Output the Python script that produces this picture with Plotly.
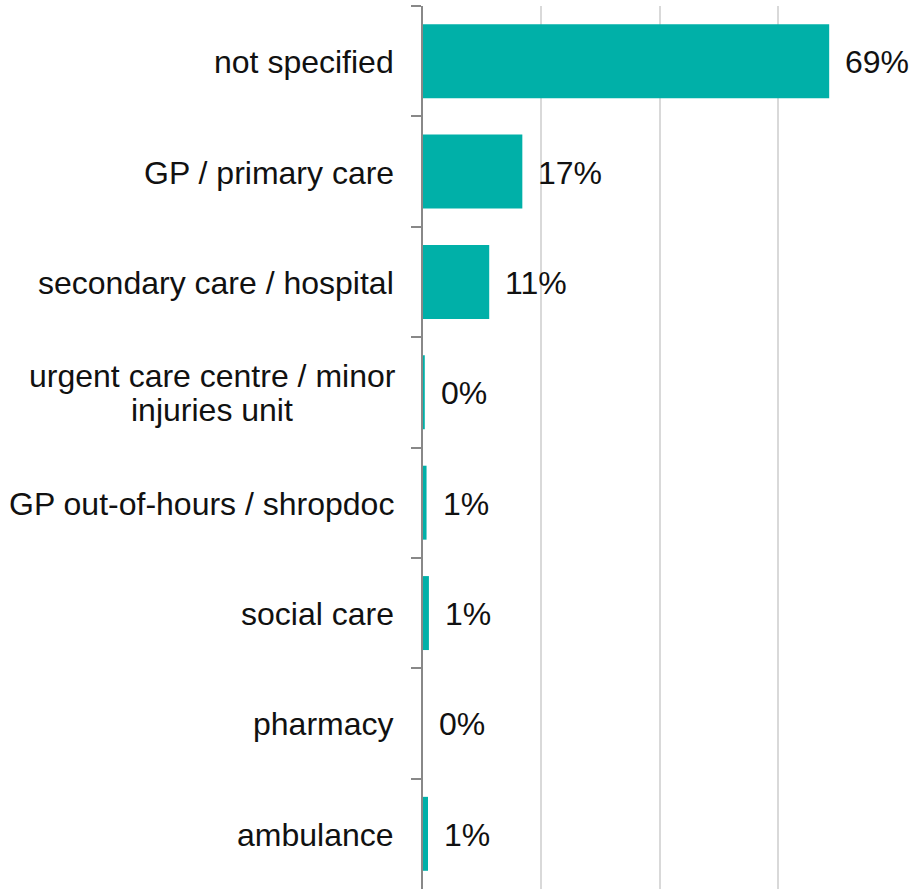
import plotly.graph_objects as go

categories = [
    "not specified",
    "GP / primary care",
    "secondary care / hospital",
    "urgent care centre / minor<br>injuries unit",
    "GP out-of-hours / shropdoc",
    "social care",
    "pharmacy",
    "ambulance",
]
values = [68.7, 16.8, 11.2, 0.3, 0.6, 1.0, 0.0, 0.85]
x_ticks = [0, 20, 40, 60, 80]

BAR = "#00B0A8"
FONT = "Liberation Sans, Arial, sans-serif"
FS = 32

fig = go.Figure()
fig.add_trace(go.Bar(
    y=categories, x=values, orientation="h",
    marker=dict(color=BAR, line=dict(width=0)),
    hoverinfo="skip",
))

annotations = []
for c, v in zip(categories, values):
    annotations.append(dict(
        x=v, y=c, xref="x", yref="y", text=f"{round(v)}%",
        showarrow=False, xanchor="left", yanchor="middle", xshift=14, yshift=-1,
        font=dict(family=FONT, size=FS, color="#111111"),
    ))
    lines = c.split("<br>")
    n = len(lines)
    for i, line in enumerate(lines):
        shift = (n - 1) / 2 * 34 - i * 34
        if n == 1:
            anchor, xs = "right", -27
        else:
            # wrapped labels are centred on their block, as in the source
            anchor, xs = "center", -211
        annotations.append(dict(
            x=0, y=c, xref="paper", yref="y", text=line,
            showarrow=False, xanchor=anchor, yanchor="middle",
            xshift=xs, yshift=shift - 1,
            font=dict(family=FONT, size=FS, color="#111111"),
        ))

fig.update_layout(
    width=910, height=891,
    margin=dict(l=423, r=14, t=6, b=2, autoexpand=False),
    paper_bgcolor="white", plot_bgcolor="white",
    bargap=0.33, showlegend=False,
    annotations=annotations,
    font=dict(family=FONT, size=FS, color="#111111"),
)
fig.update_xaxes(
    range=[0, 80], tickvals=x_ticks, showticklabels=False,
    showgrid=True, gridcolor="#D9D9D9", gridwidth=2,
    zeroline=False, showline=False, ticks="", automargin=False,
)
fig.update_yaxes(
    type="category", categoryorder="array", categoryarray=categories,
    autorange="reversed", showticklabels=False,
    showline=True, linecolor="#888888", linewidth=2,
    ticks="outside", ticklen=10, tickcolor="#888888", tickwidth=2,
    tickson="boundaries", showgrid=False, zeroline=False, automargin=False,
)

fig.write_html(
    "out.html",
    config={"displayModeBar": False, "staticPlot": True},
    post_script="document.body.style.margin='0';document.body.style.overflow='hidden';",
)
